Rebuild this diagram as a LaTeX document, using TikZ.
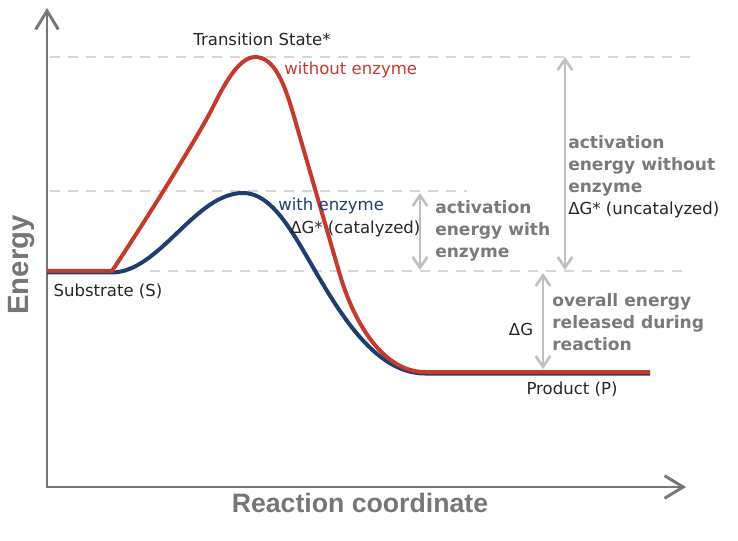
\documentclass[tikz,border=0pt]{standalone}
\usepackage{fontspec}
\setmainfont{DejaVu Sans}
\newfontfamily\axisfont{Liberation Sans}
\usetikzlibrary{arrows.meta}
\definecolor{redline}{RGB}{196,58,44}
\definecolor{blueline}{RGB}{30,62,112}
\definecolor{axisgray}{RGB}{118,118,118}
\definecolor{notegray}{RGB}{122,122,122}
\definecolor{arrowgray}{RGB}{192,192,192}
\definecolor{guidegray}{RGB}{214,214,214}
\definecolor{labeltext}{RGB}{38,38,38}
\begin{document}
\begin{tikzpicture}[x=0.75pt,y=-0.75pt,
  axis/.style={draw=axisgray,line width=2.2pt,{Straight Barb[length=14pt,width=17pt]}-{Straight Barb[length=14pt,width=17pt]}},
  guide/.style={draw=guidegray,line width=1.5pt,dash pattern=on 7.5pt off 6pt},
  gap/.style={draw=arrowgray,line width=2pt,{Straight Barb[length=8pt,width=11pt]}-{Straight Barb[length=8pt,width=11pt]}},
  curve/.style={line width=3pt,line join=round},
  tag/.style={font=\fontsize{12.4}{15}\selectfont,text=labeltext,inner sep=0pt},
  note/.style={font=\fontsize{12.8}{16.5}\selectfont\bfseries,text=notegray,align=left,inner sep=0pt},
  title/.style={font=\axisfont\fontsize{20}{24}\selectfont\bfseries,text=axisgray,inner sep=0pt}]
\useasboundingbox (0,0) rectangle (738,541);
\coordinate (orig) at (47,487);
\coordinate (ytip) at (47,8);
\coordinate (xtip) at (686,487);
\coordinate (sub0) at (47,271);
\coordinate (sub1) at (112,271);
\coordinate (tsred) at (255,57);
\coordinate (tsblue) at (243,193);
\coordinate (prod0) at (425,372);
\coordinate (prod1) at (650,372);
\coordinate (catT) at (420,193);
\coordinate (catB) at (420,270);
\coordinate (uncT) at (565,57);
\coordinate (uncB) at (565,270);
\coordinate (relT) at (543,273);
\coordinate (relB) at (543,369);

\draw[guide] (50,57) -- (690,57);
\draw[guide] (50,191) -- (467,191);
\draw[guide] (150,271) -- (690,271);

\draw[axis] (ytip) -- (orig) -- (xtip);

\draw[curve,blueline] (47,272.5) -- (112,272.5) .. controls (160,272) and (195,193) .. (tsblue)
  .. controls (265,193) and (282,215) .. (300,245) .. controls (330,295) and (368,373.5) .. (425,373.5) -- (650,373.5);
\draw[curve,redline] (sub0) -- (sub1) .. controls (150,214) and (200,133) .. (213,107)
  .. controls (222,89) and (238,57) .. (tsred) .. controls (275,57) and (285,85) .. (295,120)
  -- (340,275) .. controls (352,316) and (380,372) .. (prod0) -- (prod1);

\draw[gap] (catT) -- (catB);
\draw[gap] (uncT) -- (uncB);
\draw[gap] (relT) -- (relB);

\node[tag] (ts) at (262,39) {Transition State*};
\node[tag,text=redline,anchor=west] (nocat) at (284,70) {without enzyme};
\node[tag,text=blueline,anchor=west] (cat) at (278,206) {with enzyme};
\node[tag,anchor=west] (dgcat) at (290,229) {ΔG* (catalyzed)};
\node[note,anchor=west] (catnote) at (435,231) {activation\\energy with\\enzyme};
\node[note,anchor=west] (uncnote) at (568,177) {activation\\energy without\\enzyme\\{\fontsize{12.4}{15}\selectfont\mdseries\color{labeltext}ΔG* (uncatalyzed)}};
\node[tag] (dg) at (521,329) {ΔG};
\node[note,anchor=west] (relnote) at (552,322) {overall energy\\released during\\reaction};
\node[tag] (prod) at (572,389) {Product (P)};
\node[tag] (subs) at (108,291) {Substrate (S)};
\node[title,rotate=90,font=\axisfont\fontsize{22}{26}\selectfont\bfseries] (ylab) at (22,265) {Energy};
\node[title] (xlab) at (360,503) {Reaction coordinate};
\end{tikzpicture}
\end{document}
